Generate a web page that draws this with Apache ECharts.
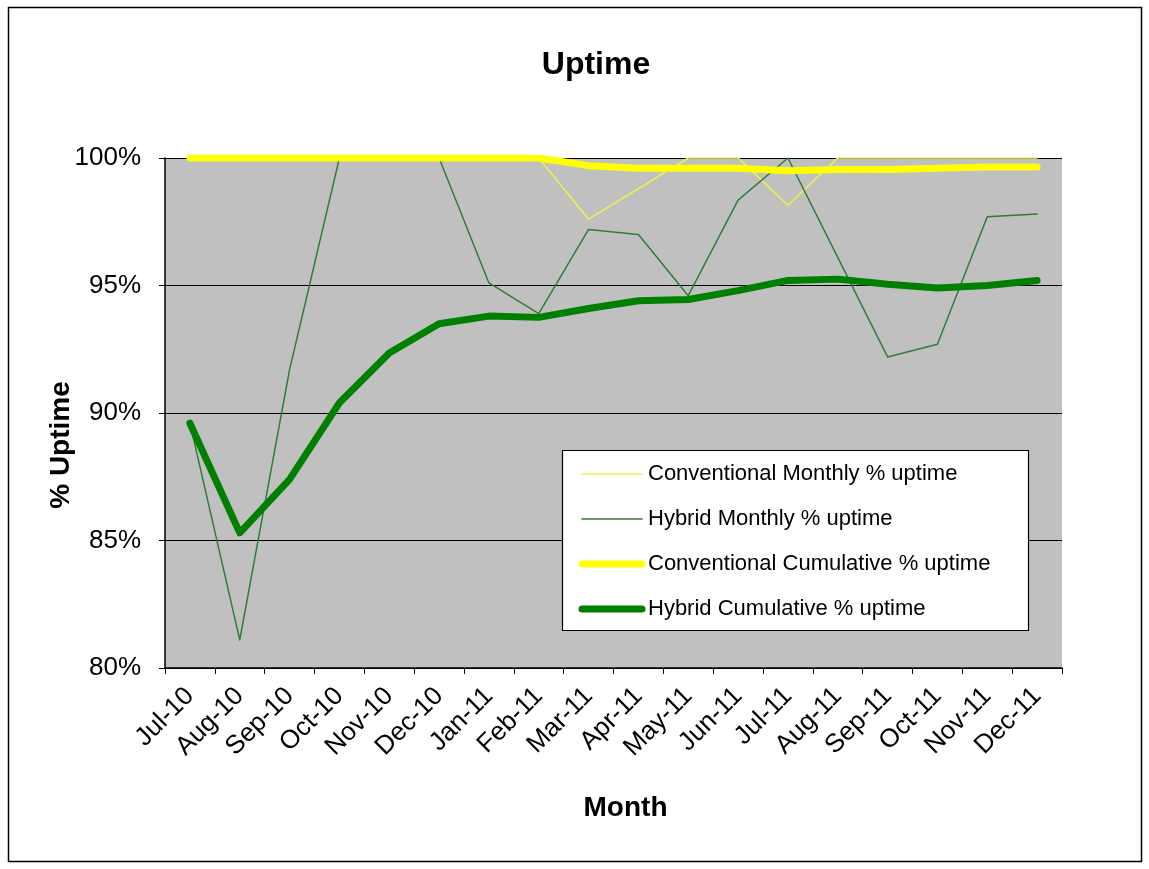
<!DOCTYPE html>
<html>
<head>
<meta charset="utf-8">
<title>Uptime</title>
<script src="https://cdn.jsdelivr.net/npm/echarts@6/dist/echarts.min.js"></script>
<style>
	html, body { margin: 0; padding: 0; background: #fff; }
	#uptime-chart { width: 1149px; height: 869px; }
</style>
</head>
<body>
<div id="uptime-chart"></div>
<script>
	"use strict";

	// ______________ DATA
	var months = ['Jul-10', 'Aug-10', 'Sep-10', 'Oct-10', 'Nov-10', 'Dec-10', 'Jan-11', 'Feb-11', 'Mar-11',
		'Apr-11', 'May-11', 'Jun-11', 'Jul-11', 'Aug-11', 'Sep-11', 'Oct-11', 'Nov-11', 'Dec-11'];
	var convMonthly = [100, 100, 100, 100, 100, 100, 100, 100, 97.6, 98.8, 100, 100, 98.15, 100, 100, 100, 100, 100];
	var hybridMonthly = [89.6, 81.1, 91.7, 100, 100, 100, 95.1, 93.9, 97.2, 97.0, 94.6, 98.35, 100, 96.1, 92.2, 92.7, 97.7, 97.8];
	var convCumulative = [100, 100, 100, 100, 100, 100, 100, 100, 99.7, 99.6, 99.6, 99.6, 99.5, 99.55, 99.55, 99.6, 99.65, 99.65];
	var hybridCumulative = [89.6, 85.3, 87.4, 90.4, 92.35, 93.5, 93.8, 93.75, 94.1, 94.4, 94.45, 94.8, 95.2, 95.25, 95.05, 94.9, 95.0, 95.2];
	var seriesNames = ['Conventional Monthly % uptime', 'Hybrid Monthly % uptime',
		'Conventional Cumulative % uptime', 'Hybrid Cumulative % uptime'];
	var yTicks = { min: 80, max: 100, step: 5 };

	var FONT = 'Liberation Sans, Arial, sans-serif';
	var styles = [
		{ color: '#f2f245', width: 1.5 },
		{ color: '#2f7d38', width: 1.5 },
		{ color: '#ffff00', width: 7 },
		{ color: '#008000', width: 7 }
	];

	function lineSeries(i, data) {
		return {
			name: seriesNames[i],
			type: 'line',
			data: data,
			symbol: 'none',
			showSymbol: false,
			lineStyle: { color: styles[i].color, width: styles[i].width, cap: 'round', join: 'round' },
			itemStyle: { color: styles[i].color },
			emphasis: { disabled: true },
			animation: false
		};
	}

	// ______________ LEGEND BOX (drawn by hand, Excel style)
	var legendGraphics = [{
		type: 'rect',
		shape: { x: 562.5, y: 450.5, width: 466, height: 180 },
		style: { fill: '#ffffff', stroke: '#000', lineWidth: 1.2 },
		silent: true,
		z: 5
	}];
	seriesNames.forEach(function(name, i) {
		var cy = 474 + i * 45;
		legendGraphics.push({
			type: 'line',
			shape: { x1: 582, y1: cy, x2: 642, y2: cy },
			style: { stroke: styles[i].color, lineWidth: styles[i].width, lineCap: 'round' },
			silent: true,
			z: 6
		});
		legendGraphics.push({
			type: 'text',
			x: 648,
			y: cy,
			style: { text: name, fill: '#000', font: '22px ' + FONT, verticalAlign: 'middle', align: 'left' },
			silent: true,
			z: 6
		});
	});

	var chartEl = document.getElementById('uptime-chart');
	var chart = echarts.init(chartEl, null, { renderer: 'canvas' });

	chart.setOption({
		animation: false,
		backgroundColor: '#ffffff',
		textStyle: { fontFamily: FONT },
		title: {
			text: 'Uptime',
			left: 591,
			textAlign: 'center',
			top: 44,
			textStyle: { fontFamily: FONT, fontSize: 32, fontWeight: 'bold', color: '#000' }
		},
		grid: {
			left: 165,
			right: 87,
			top: 158,
			bottom: 201,
			show: true,
			backgroundColor: '#c0c0c0',
			borderWidth: 0
		},
		xAxis: {
			type: 'category',
			data: months,
			boundaryGap: true,
			name: 'Month',
			nameLocation: 'middle',
			nameGap: 126,
			nameMoveOverlap: false,
			nameTextStyle: { fontFamily: FONT, fontSize: 28, fontWeight: 'bold', color: '#000', padding: [0, 0, 0, 24] },
			axisLine: { lineStyle: { color: '#000', width: 1.5 } },
			axisTick: { show: true, length: 6, inside: false, lineStyle: { color: '#000' } },
			axisLabel: { interval: 0, rotate: 45, fontFamily: FONT, fontSize: 26, color: '#000', margin: 24 },
			splitLine: { show: false }
		},
		yAxis: {
			type: 'value',
			min: yTicks.min,
			max: yTicks.max,
			interval: yTicks.step,
			name: '% Uptime',
			nameLocation: 'middle',
			nameGap: 90,
			nameMoveOverlap: false,
			nameTextStyle: { fontFamily: FONT, fontSize: 28, fontWeight: 'bold', color: '#000', padding: [0, 64, 0, 0] },
			axisLine: { show: true, lineStyle: { color: '#000', width: 1.5 } },
			axisTick: { show: true, length: 6, lineStyle: { color: '#000' } },
			axisLabel: { formatter: '{value}%', fontFamily: FONT, fontSize: 26, color: '#000', margin: 24 },
			splitLine: { show: true, lineStyle: { color: '#000', width: 1.2 } }
		},
		graphic: [{
			type: 'rect',
			shape: { x: 8.5, y: 7.5, width: 1133, height: 854 },
			style: { fill: null, stroke: '#000', lineWidth: 1.5 },
			silent: true,
			z: 0
		}].concat(legendGraphics),
		series: [
			lineSeries(0, convMonthly),
			lineSeries(1, hybridMonthly),
			lineSeries(2, convCumulative),
			lineSeries(3, hybridCumulative)
		]
	});
</script>
</body>
</html>
